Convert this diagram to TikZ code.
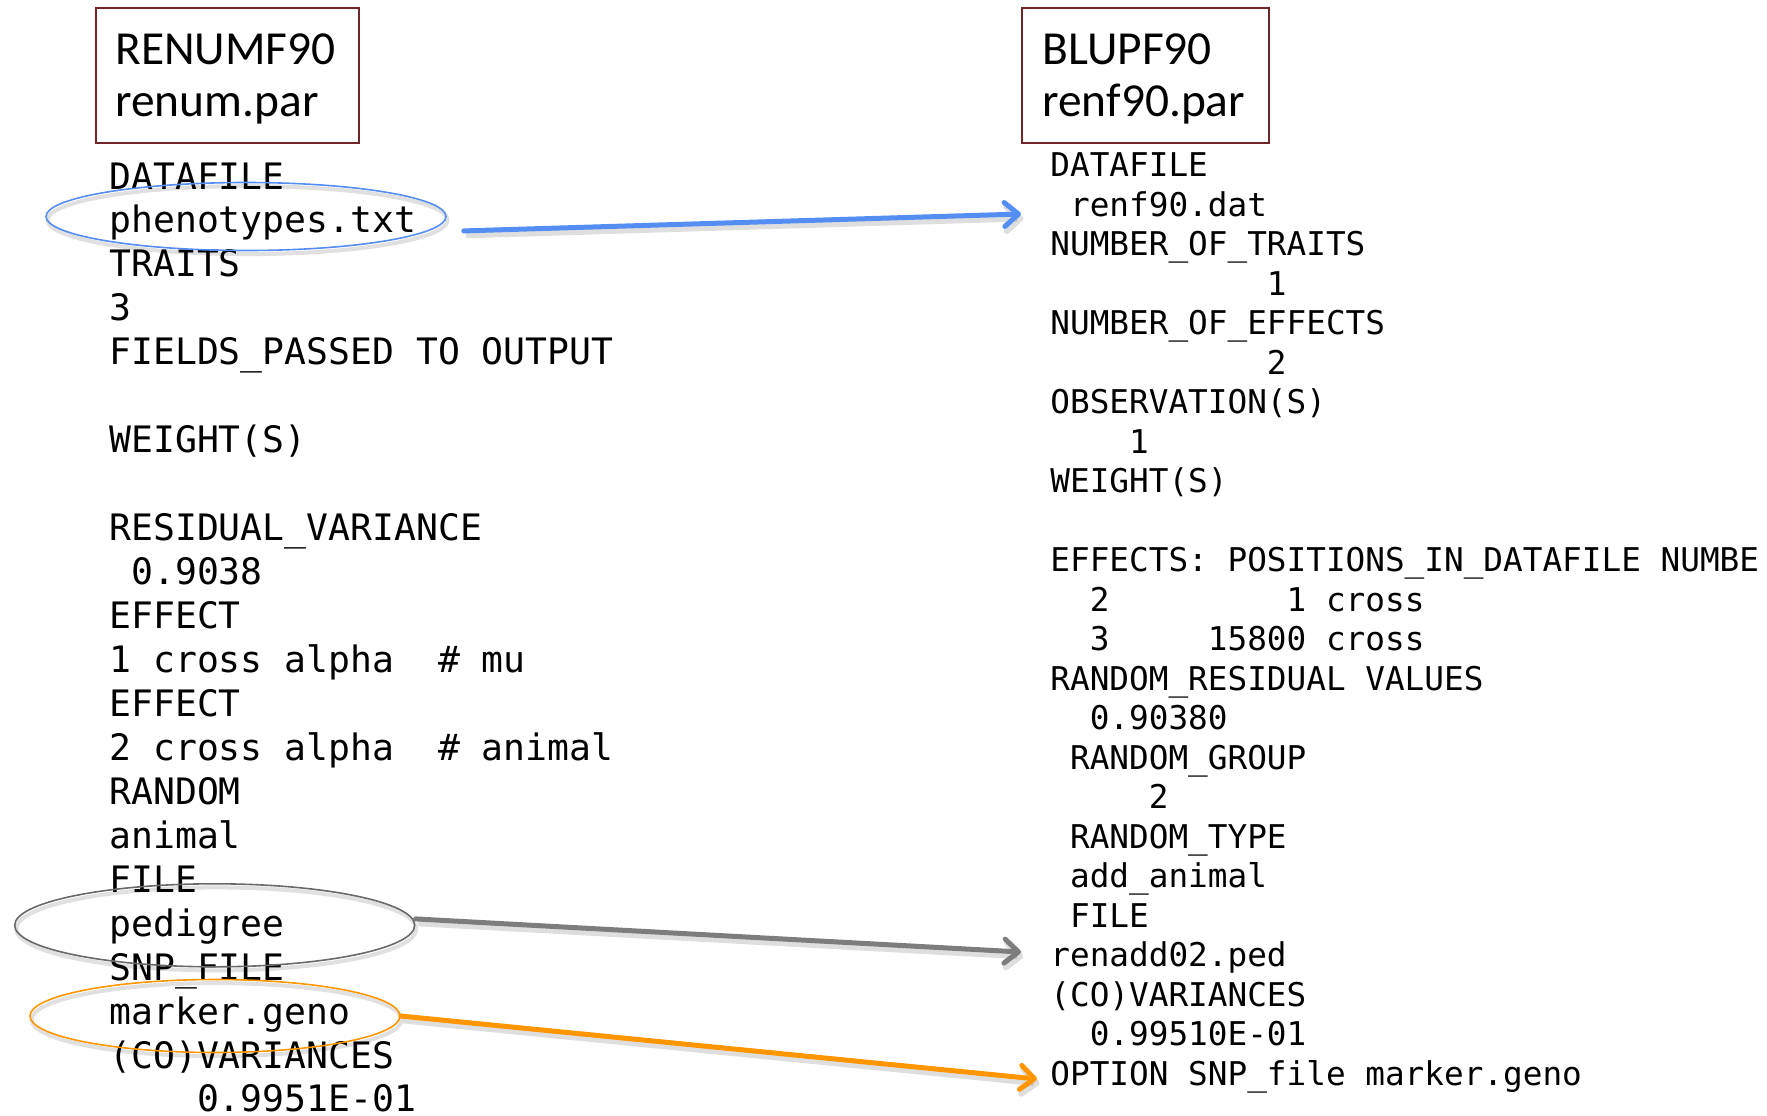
\documentclass[tikz,border=0pt]{standalone}
\usepackage{fontspec}
\setmainfont{Carlito}
\newfontfamily\codefont{DejaVu Sans Mono}
\usetikzlibrary{arrows.meta,shapes.geometric}

\definecolor{boxred}{RGB}{112,38,38}
\definecolor{linkblue}{RGB}{84,142,242}
\definecolor{linkgray}{RGB}{125,125,125}
\definecolor{ringgray}{RGB}{105,105,105}
\definecolor{linkorange}{RGB}{255,150,0}

\tikzset{
  titlebox/.style={draw=boxred, line width=1pt, anchor=north west,
    inner sep=0pt, minimum height=67.5pt},
  titletext/.style={anchor=base west, inner sep=0pt,
    font=\fontsize{23.7pt}{28pt}\selectfont},
  codeleft/.style={anchor=base west, inner sep=0pt,
    font=\codefont\fontsize{18.2pt}{22pt}\selectfont},
  coderight/.style={anchor=base west, inner sep=0pt,
    font=\codefont\fontsize{16.35pt}{19.75pt}\selectfont},
  ring/.style={ellipse, draw, line width=0.8pt, inner sep=0pt,
    preaction={draw=black, opacity=0.12, line width=2pt,
      transform canvas={shift={(0.8pt,-1.8pt)}}}},
  link/.style={line width=2.5pt, line cap=round,
    -{Straight Barb[length=7pt, width=12pt, line cap=round, line join=round]},
    preaction={draw=black, opacity=0.13, line width=3pt,
      transform canvas={shift={(1.2pt,-2.2pt)}}}},
}

\begin{document}
\begin{tikzpicture}[x=0.5pt, y=-0.5pt]
  \useasboundingbox (0,0) rectangle (1767,1115);

  % program / parameter file titles
  \node[titlebox, minimum width=131.5pt] (renumbox) at (95,7) {};
  \node[titletext] (renumname) at (115,64) {RENUMF90};
  \node[titletext] (renumpar) at (115,116) {renum.par};
  \node[titlebox, minimum width=123.5pt] (blupfbox) at (1021,7) {};
  \node[titletext] (blupfname) at (1042,64) {BLUPF90};
  \node[titletext] (blupfpar) at (1042,116) {renf90.par};

  % renum.par listing
  \foreach \i/\t in {0/DATAFILE, 1/phenotypes.txt, 2/TRAITS, 3/3,
      4/FIELDS\_PASSED~TO~OUTPUT, 6/WEIGHT(S), 8/RESIDUAL\_VARIANCE,
      9/~0.9038, 10/EFFECT, 11/1~cross~alpha~~\#~mu, 12/EFFECT,
      13/2~cross~alpha~~\#~animal, 14/RANDOM, 15/animal, 16/FILE,
      17/pedigree, 18/SNP\_FILE, 19/marker.geno, 20/(CO)VARIANCES,
      21/~~~~0.9951E-01}
    \node[codeleft] (l\i) at (109, {189+43.95*\i}) {\t};

  % renf90.par listing
  \foreach \i/\t in {0/DATAFILE, 1/~renf90.dat, 2/NUMBER\_OF\_TRAITS,
      3/~~~~~~~~~~~1, 4/NUMBER\_OF\_EFFECTS, 5/~~~~~~~~~~~2,
      6/OBSERVATION(S), 7/~~~~1, 8/WEIGHT(S),
      10/EFFECTS:~POSITIONS\_IN\_DATAFILE~NUMBE,
      11/~~2~~~~~~~~~1~cross, 12/~~3~~~~~15800~cross,
      13/RANDOM\_RESIDUAL~VALUES, 14/~~0.90380, 15/~RANDOM\_GROUP,
      16/~~~~~2, 17/~RANDOM\_TYPE, 18/~add\_animal, 19/~FILE,
      20/renadd02.ped, 21/(CO)VARIANCES, 22/~~0.99510E-01,
      23/OPTION~SNP\_file~marker.geno}
    \node[coderight] (r\i) at (1050, {176.5+39.5*\i}) {\t};

  % highlighted entries
  \node[ring, draw=linkblue, minimum width=200pt, minimum height=34pt]
    (phenoring) at (246,216.5) {};
  \node[ring, draw=ringgray, minimum width=200pt, minimum height=41.5pt]
    (pedring) at (214.7,925.3) {};
  \node[ring, draw=linkorange, minimum width=185pt, minimum height=36.5pt]
    (markerring) at (215,1016) {};

  % arrow ends
  \coordinate (phenofrom) at ([xshift=8.5pt, yshift=-7.2pt]phenoring.east);
  \coordinate (phenoto) at (1021,214);
  \coordinate (pedfrom) at ([yshift=3.2pt]pedring.east);
  \coordinate (pedto) at (1021,952);
  \coordinate (markerto) at (1037,1079);

  % links between the two parameter files
  \draw[link, linkblue] (phenofrom) -- (phenoto);
  \draw[link, linkgray] (pedfrom) -- (pedto);
  \draw[link, linkorange] (markerring.east) -- (markerto);
\end{tikzpicture}
\end{document}
